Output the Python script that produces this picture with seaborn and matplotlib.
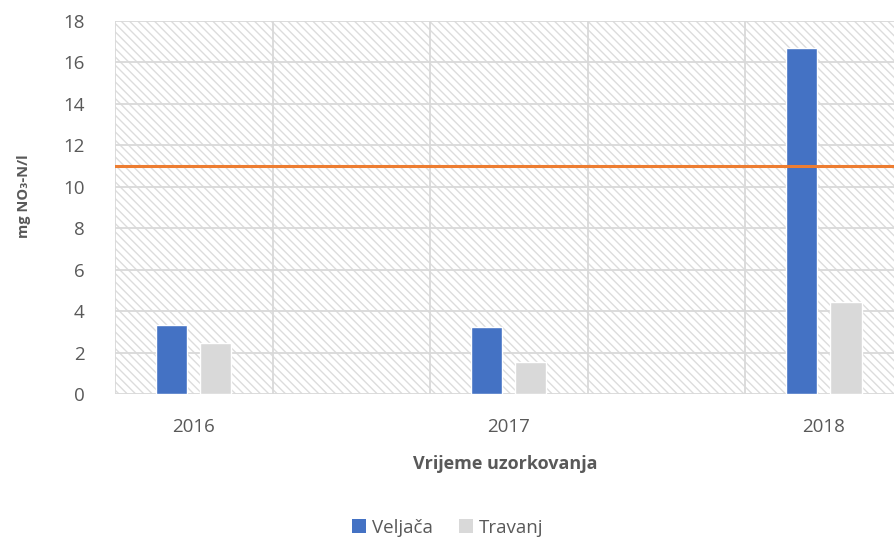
import numpy as np
import pandas as pd
import matplotlib
matplotlib.use("Agg")
import matplotlib.pyplot as plt
import seaborn as sns
from matplotlib.patches import Rectangle, Patch

# Podaci očitani s grafa
godine = ["2016", "2017", "2018"]
veljaca = [3.33, 3.24, 16.7]
travanj = [2.46, 1.55, 4.44]
granica = 11.0
mjeseci = ["Veljača", "Travanj"]

df = pd.DataFrame({
    "godina": godine * 2,
    "mjesec": [mjeseci[0]] * 3 + [mjeseci[1]] * 3,
    "vrijednost": veljaca + travanj,
})

sns.set_theme(style="white")
plt.rcParams["font.family"] = ["Open Sans", "DejaVu Sans"]
plt.rcParams["hatch.linewidth"] = 1.0
plt.rcParams["hatch.color"] = "#dcdcdc"

tekst = "#595959"
boje = {"Veljača": "#4472C4", "Travanj": "#D9D9D9"}

fig = plt.figure(figsize=(8.95, 5.44), dpi=100)
ax = fig.add_axes([0.1285, 0.2757, 0.8715, 0.6857])

# šrafirana pozadina
ax.add_patch(Rectangle((0, 0), 1, 1, transform=ax.transAxes, facecolor="white",
                       edgecolor="#dcdcdc", hatch="\\\\\\\\", linewidth=0, zorder=0))

sns.barplot(data=df, x="godina", y="vrijednost", hue="mjesec", palette=boje,
            width=0.28, gap=0.29, saturation=1, legend=False, ax=ax, zorder=3)

ax.axhline(granica, color="#ED7D31", linewidth=2.2, zorder=4)

ax.set_yticks(np.arange(0, 19, 2))
ax.set_xticks([0, 1, 2])
ax.set_xticks([-0.25, 0.25, 0.75, 1.25, 1.75, 2.25], minor=True)
ax.set_xlim(-0.25, 2.226)
ax.set_ylim(0, 18)
ax.grid(axis="y", color="#d9d9d9", linewidth=1.3, zorder=1)
ax.grid(axis="x", which="minor", color="#d9d9d9", linewidth=1.3, zorder=1)
ax.set_axisbelow(True)
for s in ax.spines.values():
    s.set_visible(False)
ax.tick_params(axis="both", which="both", length=0, labelsize=13.5, labelcolor=tekst)
ax.tick_params(axis="x", pad=17)
ax.tick_params(axis="y", pad=22)

ax.set_xlabel("Vrijeme uzorkovanja", fontsize=13, fontweight="bold", color=tekst, labelpad=14)
ax.set_ylabel("mg NO₃-N/l", fontsize=10.5, fontweight="bold", color=tekst)
ax.yaxis.set_label_coords(-0.108, 0.53)

ruke = [Patch(facecolor=boje[m], edgecolor="none") for m in mjeseci]
fig.legend(ruke, mjeseci, loc="center", bbox_to_anchor=(0.5, 0.03), ncol=2,
           frameon=False, fontsize=13.5, labelcolor=tekst, handlelength=0.75,
           handleheight=0.75, handletextpad=0.3, columnspacing=1.4)

fig.savefig("out.png", dpi=100)
